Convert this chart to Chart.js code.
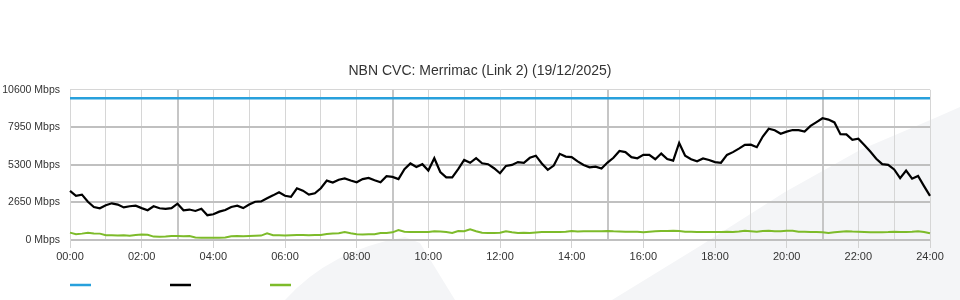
<!DOCTYPE html>
<html>
<head>
<meta charset="utf-8">
<title>NBN CVC: Merrimac (Link 2)</title>
<script src="https://cdn.jsdelivr.net/npm/chart.js@4.4.1/dist/chart.umd.min.js"></script>
<style>
  html, body { margin: 0; padding: 0; background: #fff; }
  canvas { display: block; }
</style>
</head>
<body>
<canvas id="cvcChart" width="960" height="300"></canvas>
<script>
// 10 minute samples from 00:00 to 24:00
var timeLabels = [];
for (var m = 0; m <= 24 * 60; m += 10) {
  timeLabels.push(String(Math.floor(m / 60)).padStart(2, '0') + ':' + String(m % 60).padStart(2, '0'));
}

// link capacity (flat line)
var capacityAt = ['00:00', '24:00'];
var capacityMbps = [10000, 10000];

var inboundMbps = [
  3463, 3110, 3200, 2700, 2330, 2240, 2450, 2590, 2500, 2300,
  2380, 2420, 2250, 2100, 2380, 2240, 2200, 2250, 2560, 2100,
  2150, 2050, 2200, 1750, 1820, 2000, 2120, 2330, 2420, 2250,
  2500, 2700, 2720, 2950, 3150, 3368, 3120, 3050, 3650, 3480,
  3200, 3300, 3650, 4190, 4050, 4250, 4350, 4200, 4075, 4300,
  4380, 4220, 4075, 4500, 4450, 4300, 5000, 5400, 5150, 5350,
  4900, 5770, 4800, 4420, 4420, 5000, 5650, 5450, 5770, 5417,
  5350, 5064, 4710, 5230, 5300, 5500, 5450, 5800, 5950, 5400,
  4950, 5250, 6080, 5888, 5850, 5550, 5300, 5130, 5180, 5050,
  5465, 5800, 6280, 6200, 5850, 5770, 6006, 6006, 5700, 6100,
  5720, 5600, 6850, 5950, 5700, 5550, 5750, 5650, 5500, 5450,
  6006, 6200, 6450, 6713, 6730, 6550, 7300, 7850, 7750, 7500,
  7650, 7760, 7750, 7650, 8050, 8315, 8590, 8500, 8300, 7467,
  7450, 7067, 7150, 6700, 6240, 5730, 5350, 5300, 4980, 4360,
  4900, 4330, 4523, 3800, 3110
];

var outboundMbps = [
  520, 410, 450, 510, 460, 450, 340, 330, 320, 330,
  300, 350, 380, 370, 240, 230, 240, 280, 290, 270,
  280, 170, 165, 160, 165, 160, 170, 260, 280, 270,
  290, 300, 310, 470, 340, 330, 320, 340, 350, 350,
  340, 360, 350, 420, 460, 480, 560, 470, 400, 390,
  400, 410, 490, 500, 540, 700, 580, 560, 560, 570,
  560, 620, 600, 560, 500, 640, 620, 760, 620, 520,
  500, 490, 510, 620, 540, 500, 510, 500, 530, 560,
  560, 570, 560, 580, 640, 600, 610, 620, 620, 620,
  630, 610, 600, 590, 590, 585, 550, 580, 610, 640,
  640, 650, 640, 590, 580, 570, 570, 565, 560, 570,
  580, 565, 600, 660, 620, 580, 640, 650, 610, 620,
  660, 650, 590, 580, 570, 560, 540, 490, 540, 580,
  620, 600, 590, 570, 540, 550, 540, 560, 590, 570,
  560, 580, 620, 560, 470
];

var yTicks = [0, 2650, 5300, 7950, 10600];

var FONT = "'Liberation Sans', Arial, sans-serif";

// faint watermark shapes behind the chart
var backdrop = {
  id: 'backdrop',
  beforeDraw: function (chart) {
    var ctx = chart.ctx;
    ctx.save();
    ctx.fillStyle = '#f4f5f7';
    ctx.beginPath();
    ctx.moveTo(612, 300);
    ctx.lineTo(700, 246);
    ctx.lineTo(785, 192);
    ctx.lineTo(860, 150);
    ctx.lineTo(935, 118);
    ctx.lineTo(960, 107);
    ctx.lineTo(960, 300);
    ctx.closePath();
    ctx.fill();
    ctx.beginPath();
    ctx.moveTo(285, 300);
    ctx.quadraticCurveTo(330, 250, 405, 237);
    ctx.lineTo(420, 243);
    ctx.lineTo(455, 300);
    ctx.closePath();
    ctx.fill();
    ctx.restore();
  }
};

// legend: just short coloured lines, no text
var lineLegend = {
  id: 'lineLegend',
  afterDraw: function (chart) {
    var ctx = chart.ctx;
    var left = chart.chartArea.left;
    chart.data.datasets.forEach(function (ds, i) {
      ctx.save();
      ctx.strokeStyle = ds.borderColor;
      ctx.lineWidth = 2.5;
      ctx.beginPath();
      ctx.moveTo(left + i * 100, 285);
      ctx.lineTo(left + i * 100 + 21, 285);
      ctx.stroke();
      ctx.restore();
    });
  }
};

var ctx = document.getElementById('cvcChart').getContext('2d');
var chart = new Chart(ctx, {
  type: 'line',
  data: {
    labels: timeLabels,
    datasets: [
      {
        label: 'Capacity',
        data: capacityAt.map(function (t, i) { return { x: t, y: capacityMbps[i] }; }),
        borderColor: '#27a0dc',
        backgroundColor: '#27a0dc',
        borderWidth: 2.5,
        pointRadius: 0
      },
      {
        label: 'Inbound',
        data: inboundMbps,
        borderColor: '#000000',
        backgroundColor: '#000000',
        borderWidth: 2.2,
        pointRadius: 0
      },
      {
        label: 'Outbound',
        data: outboundMbps,
        borderColor: '#7dbb2a',
        backgroundColor: '#7dbb2a',
        borderWidth: 2,
        pointRadius: 0
      }
    ]
  },
  options: {
    responsive: false,
    animation: false,
    layout: { padding: { left: 0, right: 0, top: 0, bottom: 35 } },
    plugins: {
      legend: { display: false },
      tooltip: { enabled: false },
      title: {
        display: true,
        text: 'NBN CVC: Merrimac (Link 2) (19/12/2025)',
        color: '#333',
        font: { family: FONT, size: 14, weight: 'normal' },
        padding: { top: 63, bottom: 10 }
      }
    },
    scales: {
      x: {
        type: 'category',
        offset: false,
        afterFit: function (scale) { scale.height = 25; },
        border: { display: false },
        grid: {
          color: function (c) {
            if (c.index % 6 !== 0) return 'rgba(0,0,0,0)';
            return (c.index - 18) % 36 === 0 ? '#c6c6c6' : '#d6d6d6';
          },
          lineWidth: function (c) {
            return (c.index - 18) % 36 === 0 ? 2 : 1;
          },
          tickColor: function (c) {
            return c.index % 12 === 0 ? '#d2d2d2' : 'rgba(0,0,0,0)';
          },
          tickLength: 8
        },
        ticks: {
          autoSkip: false,
          maxRotation: 0,
          minRotation: 0,
          padding: 2,
          color: '#333',
          font: { family: FONT, size: 11 },
          callback: function (val, i) {
            return i % 12 === 0 ? timeLabels[i] : '';
          }
        }
      },
      y: {
        min: yTicks[0],
        max: yTicks[yTicks.length - 1],
        afterFit: function (scale) { scale.width = 70; },
        border: { color: '#d6d6d6', width: 1 },
        grid: {
          drawTicks: false,
          color: function (c) {
            return c.index === yTicks.length - 1 ? '#d6d6d6' : '#c0c0c0';
          },
          lineWidth: function (c) {
            return c.index === yTicks.length - 1 ? 1 : 2;
          }
        },
        ticks: {
          stepSize: yTicks[1],
          padding: 10,
          color: '#333',
          font: { family: FONT, size: 10.5 },
          callback: function (v) { return v + ' Mbps'; }
        }
      },
      // empty right-hand gutter so the title centres on the canvas
      gutter: {
        type: 'linear',
        position: 'right',
        afterFit: function (scale) { scale.width = 30; },
        border: { display: false },
        grid: { display: false },
        ticks: { display: false }
      }
    }
  },
  plugins: [backdrop, lineLegend]
});
</script>
</body>
</html>
